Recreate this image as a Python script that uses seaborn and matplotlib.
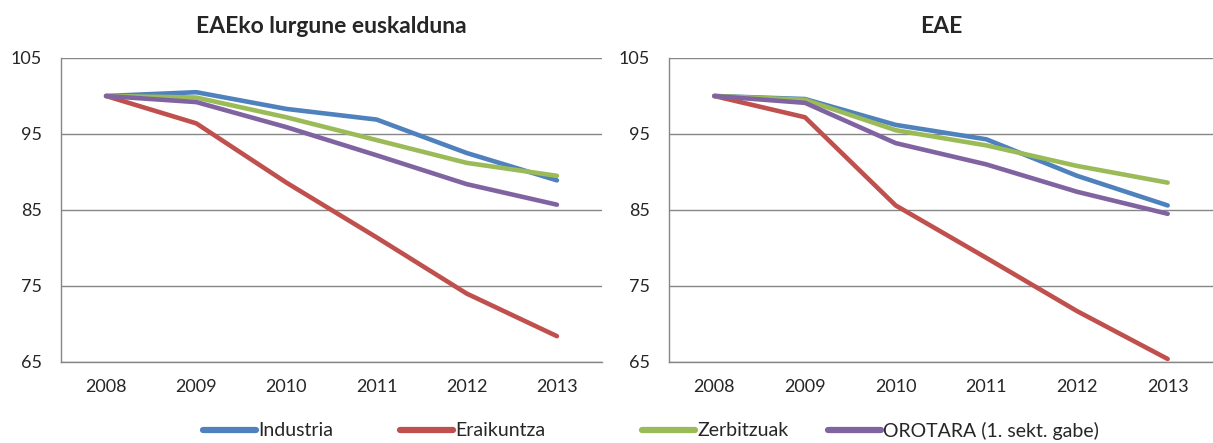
import numpy as np
import pandas as pd
import matplotlib.pyplot as plt
import seaborn as sns

# datuak
years = ["2008", "2009", "2010", "2011", "2012", "2013"]
series_names = ["Industria", "Eraikuntza", "Zerbitzuak", "OROTARA (1. sekt. gabe)"]
colors = ["#4F81BD", "#C0504D", "#9BBB59", "#8064A2"]

left_industria = [100, 100.5, 98.3, 96.9, 92.5, 88.9]
left_eraikuntza = [100, 96.4, 88.6, 81.4, 74.0, 68.4]
left_zerbitzuak = [100, 99.8, 97.2, 94.2, 91.2, 89.5]
left_orotara = [100, 99.2, 95.9, 92.2, 88.4, 85.7]

right_industria = [100, 99.6, 96.2, 94.3, 89.5, 85.6]
right_eraikuntza = [100, 97.2, 85.6, 78.7, 71.7, 65.4]
right_zerbitzuak = [100, 99.5, 95.5, 93.5, 90.8, 88.6]
right_orotara = [100, 99.1, 93.8, 91.0, 87.4, 84.5]

titles = ["EAEko lurgune euskalduna", "EAE"]


def to_long(values):
    rows = []
    for name, vals in zip(series_names, values):
        for i, v in enumerate(vals):
            rows.append({"pos": i, "urtea": years[i], "serie": name, "balioa": v})
    return pd.DataFrame(rows)


df_left = to_long([left_industria, left_eraikuntza, left_zerbitzuak, left_orotara])
df_right = to_long([right_industria, right_eraikuntza, right_zerbitzuak, right_orotara])

sns.set_style("white")
plt.rcParams["font.family"] = ["Lato", "DejaVu Sans"]

fig = plt.figure(figsize=(12.13, 4.43), dpi=100)
W, H = 1213, 443
ax1 = fig.add_axes([61 / W, 1 - 362 / H, 541 / W, 304 / H])
ax2 = fig.add_axes([669 / W, 1 - 362 / H, 544 / W, 304 / H])

grid_c = "#868686"
for ax, df, title, xmax in [(ax1, df_left, titles[0], 5.5), (ax2, df_right, titles[1], 5.39)]:
    sns.lineplot(data=df, x="pos", y="balioa", hue="serie", palette=colors,
                 hue_order=series_names, linewidth=3.3, ax=ax, legend=False,
                 solid_capstyle="round")
    ax.set_xlim(-0.5, xmax)
    ax.set_ylim(65, 105)
    ax.set_yticks([65, 75, 85, 95, 105])
    ax.set_xticks(range(len(years)))
    ax.set_xticklabels(years)
    ax.set_xticks(np.arange(-0.5, 6, 1), minor=True)
    ax.tick_params(axis="x", which="major", length=0, labelsize=13, pad=12)
    ax.tick_params(axis="x", which="minor", length=5, color=grid_c, direction="out")
    ax.tick_params(axis="y", length=5.5, color=grid_c, direction="out", labelsize=13, pad=8)
    ax.yaxis.grid(True, color=grid_c, linewidth=1)
    ax.set_axisbelow(True)
    for s in ["top", "right"]:
        ax.spines[s].set_visible(False)
    for s in ["left", "bottom"]:
        ax.spines[s].set_color(grid_c)
        ax.spines[s].set_linewidth(1)
    ax.set_xlabel("")
    ax.set_ylabel("")
    ax.set_title(title, fontsize=16.5, fontweight="bold", pad=18)

# legenda: Excel-en moduan, sarrera bakoitza bere lekuan
legend_x = [203, 400, 642, 828]
for name, c, x in zip(series_names, colors, legend_x):
    h = plt.Line2D([0], [0], color=c, linewidth=4.5, solid_capstyle="round")
    fig.legend([h], [name], loc="center left", bbox_to_anchor=(x / W, 1 - 431 / H),
               frameon=False, fontsize=14, handlelength=2.75, handletextpad=0.1,
               borderpad=0, borderaxespad=0)

fig.savefig("out.png", dpi=100)
